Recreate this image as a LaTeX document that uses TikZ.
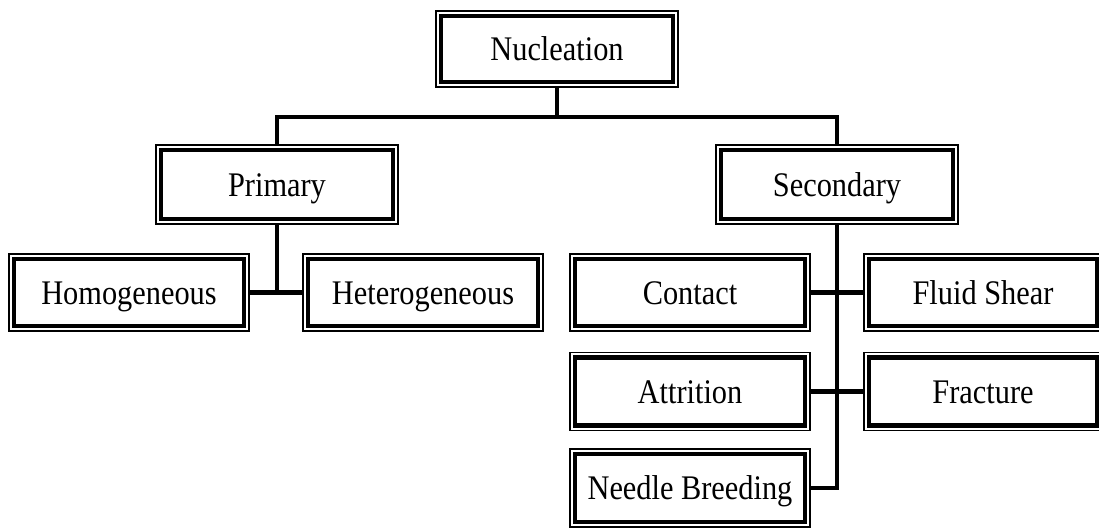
\documentclass[tikz,border=0pt]{standalone}
\usepackage{fontspec}
\setmainfont{Liberation Serif}[FakeStretch=0.88]
\usetikzlibrary{calc}
\tikzset{
    base/.style={rectangle, draw=black, fill=white, line width=4.5pt, inner sep=0pt, outer sep=5.75pt,
        text height=23pt, text depth=0pt, font=\fontsize{34.5}{40}\selectfont,
        preaction={draw=black, line width=11.5pt},
        preaction={draw=white, line width=8.5pt}},
    head/.style={base, minimum width=232pt, minimum height=69pt},
    leaf/.style={base, minimum width=230pt, minimum height=67pt},
    leafr/.style={base, minimum width=228pt, minimum height=67pt},
    link/.style={line width=4.5pt, draw=black}
}
\begin{document}
\begin{tikzpicture}[x=1pt, y=-1pt]
    \useasboundingbox (0,0) rectangle (1099,527);

    % Top level
    \node (nuc) [head, minimum height=66pt] at (557,49) {Nucleation};

    % Second level
    \node (prim) [head] at (277,184.5) {Primary};
    \node (sec) [head] at (837,184.5) {Secondary};

    % Primary branch
    \node (homo) [leaf] at (129,292.5) {Homogeneous};
    \node (hetero) [leaf] at (423,292.5) {Heterogeneous};

    % Secondary branch
    \node (contact) [leaf] at (690,292.5) {Contact};
    \node (fluid) [leafr] at (983,292.5) {Fluid Shear};
    \node (attr) [leaf, minimum height=68pt] at (690,391.5) {Attrition};
    \node (fract) [leafr, minimum height=68pt] at (983,391.5) {Fracture};
    \node (needle) [leaf, minimum height=68pt] at (690,488) {Needle Breeding};

    % Connecting
    \coordinate (bus) at (557,117);
    \draw [link] (nuc.south) -- (bus);
    \draw [link] (prim.north) |- (bus) -| (sec.north);

    \draw [link] (prim.south) -- (prim.south |- homo.east);
    \draw [link] (homo.east) -- (hetero.west);

    \draw [link] (sec.south) |- (needle.east);
    \draw [link] (contact.east) -- (fluid.west);
    \draw [link] (attr.east) -- (fract.west);

\end{tikzpicture}
\end{document}
